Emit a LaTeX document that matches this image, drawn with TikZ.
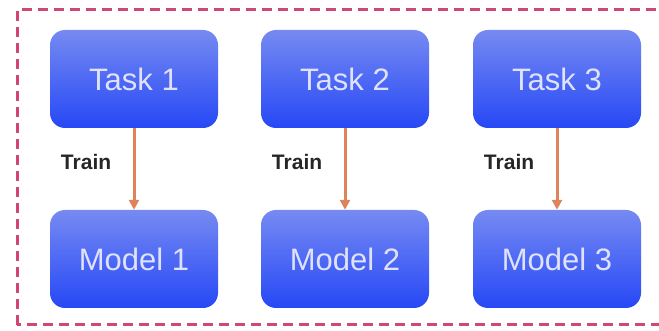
\documentclass[tikz,border=0pt]{standalone}
\usepackage{fontspec}
\setmainfont{Liberation Sans}
\usetikzlibrary{arrows.meta,positioning,shapes}
\definecolor{boxtop}{RGB}{118,138,242}
\definecolor{boxbot}{RGB}{38,72,246}
\definecolor{boxtext}{RGB}{222,226,252}
\definecolor{trainarrow}{RGB}{222,132,92}
\definecolor{framecol}{RGB}{206,72,112}

\begin{document}
\begin{tikzpicture}[x=1pt,y=1pt,
    block/.style={rounded corners=15pt, minimum width=168pt, minimum height=98pt,
                  top color=boxtop, bottom color=boxbot, text=boxtext,
                  font=\fontsize{31}{36}\selectfont, inner sep=0pt},
    trainline/.style={-{Triangle[width=10pt,length=10pt]}, draw=trainarrow, line width=3pt},
    trainlabel/.style={font=\bfseries\fontsize{21}{24}\selectfont, text=black!85}]
  \useasboundingbox (0,0) rectangle (659,331);
  \begin{scope}
    \clip (0,0) rectangle (659,331);
    \draw[framecol, line width=3pt, dash pattern=on 10pt off 6pt] (17,6) rectangle (664,321);
  \end{scope}

  \node[block] (task1) at (134,252) {Task 1};
  \node[block] (task2) at (345,252) {Task 2};
  \node[block] (task3) at (557,252) {Task 3};

  \node[block] (model1) at (134,72) {Model 1};
  \node[block] (model2) at (345,72) {Model 2};
  \node[block] (model3) at (557,72) {Model 3};

  \draw[trainline] (task1) -- (model1) node[pos=0.42,left=18pt,trainlabel] {Train};
  \draw[trainline] (task2) -- (model2) node[pos=0.42,left=18pt,trainlabel] {Train};
  \draw[trainline] (task3) -- (model3) node[pos=0.42,left=18pt,trainlabel] {Train};
\end{tikzpicture}
\end{document}
